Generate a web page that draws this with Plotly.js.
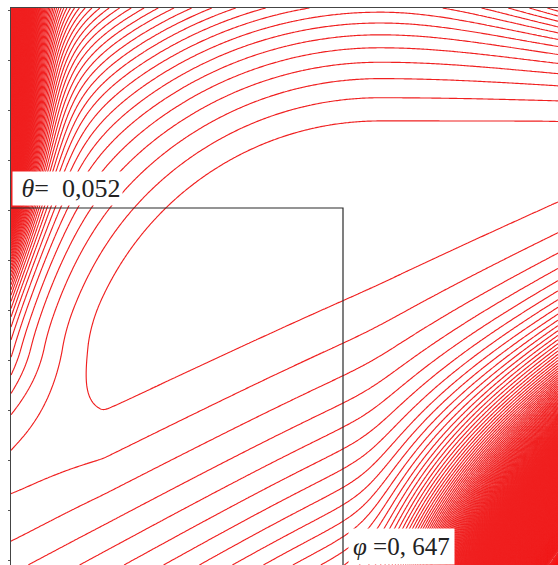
<!DOCTYPE html>
<html><head><meta charset="utf-8">
<script src="https://cdn.plot.ly/plotly-3.0.1.min.js"></script>
<style>html,body{margin:0;padding:0;background:#fff}#plot{width:558px;height:565px}</style>
</head><body><div id="plot"></div>
<script>
// estimates marked on the chart
const phiHat = 0.647;
const thetaHat = 0.052;
const phiLabel = '<i>φ</i> =0,\u00A0647';
const thetaLabel = '\u00A0<i>θ</i>=\u00A0\u00A00,052';
// visible window of the parameter plane
const phiRange = [0.315, 0.862];
const thetaRange = [-0.305, 0.252];
// shape of the criterion surface (units of 0.1 around the estimate)
const upperCentre = [0.37, -2.2];           // centre of the upper arcs
const upperShape = [1.0, 0.88, 3.0, 59, 30, 0.8, 0.7];
const lowerLine = [0.1, 0.415];             // edge of the lower family of straight contours
const lowerShape = [0.98, 0.10, 0.3, 8, 0.1];
const leftWall = [120, 0.15, 0.3, 0.4];
const levelSpec = [1, 700, 1];

function spk(x, k) { return Math.log(1 + Math.exp(k*x))/k; }

function crit(u, w) {
  const du = u - upperCentre[0], dw = w - upperCentre[1];
  const dwp = Math.max(dw, 0);
  let r2;
  if (du < 0) r2 = dwp*dwp + (du/upperShape[0])*(du/upperShape[0]);
  else { const e = Math.max(0, dw - upperShape[2]); r2 = dwp*dwp + upperShape[1]*du*du*e*e; }
  const x = (r2*r2 - upperShape[3])/upperShape[4];
  let U = (x + Math.sqrt(x*x + 0.01))/2;
  const fd = Math.min(0, dw - upperShape[5]);
  U *= Math.exp(-fd*fd/upperShape[6]);
  const d = Math.max(0, lowerLine[0] + lowerLine[1]*u - w);
  const L = lowerShape[0]*d*d*Math.exp(-lowerShape[4]*spk(-u, 2))
          * Math.exp(lowerShape[1]*d*d*spk(u - lowerShape[2], lowerShape[3]));
  const uEdge = (phiRange[0] - phiHat)/0.1;
  const W = leftWall[0]*Math.exp(-(u - uEdge)/leftWall[1]) / (1 + Math.exp(-(w - leftWall[2])/leftWall[3]));
  return U + L + W;
}

const nx = 340, ny = 340;
const xs = [], ys = [], zs = [];
for (let i = 0; i < nx; i++) xs.push(phiRange[0] + (phiRange[1]-phiRange[0])*i/(nx-1));
for (let j = 0; j < ny; j++) ys.push(thetaRange[0] + (thetaRange[1]-thetaRange[0])*j/(ny-1));
for (let j = 0; j < ny; j++) {
  const row = [];
  for (let i = 0; i < nx; i++) row.push(Math.min(crit((xs[i]-phiHat)/0.1, (ys[j]-thetaHat)/0.1), 900));
  zs.push(row);
}

const red = 'rgb(240,32,32)';
const traces = [
  {type: 'heatmap', x: xs, y: ys, z: zs, showscale: false, hoverinfo: 'skip', zsmooth: 'best',
   zmin: 0, zmax: 900,
   colorscale: [[0, 'rgba(240,32,32,0)'], [0.74, 'rgba(240,32,32,0)'], [0.8, red], [1, 'rgb(250,10,10)']]},
  {type: 'contour', x: xs, y: ys, z: zs, showscale: false, hoverinfo: 'skip',
   colorscale: [[0, red], [1, red]],
   contours: {coloring: 'lines', start: levelSpec[0], end: levelSpec[1], size: levelSpec[2]},
   line: {width: 1.15, smoothing: 0}},
  {type: 'scatter', mode: 'lines', hoverinfo: 'skip',
   x: [phiRange[0], phiHat, phiHat], y: [thetaHat, thetaHat, thetaRange[0]],
   line: {color: '#2a2a2a', width: 1.2}}
];

const layout = {
  width: 558, height: 565,
  margin: {l: 11, r: 0, t: 8, b: 0},
  paper_bgcolor: '#fff', plot_bgcolor: '#fff',
  showlegend: false,
  xaxis: {range: phiRange, side: 'top', showgrid: false, zeroline: false, showticklabels: false,
          showline: true, linecolor: '#444', linewidth: 1.5, ticks: ''},
  yaxis: {range: thetaRange, showgrid: false, zeroline: false, showticklabels: false,
          showline: true, linecolor: '#444', linewidth: 1.5, ticks: 'outside', ticklen: 2, tickcolor: '#555',
          tick0: 0, dtick: 0.05},
  annotations: [
    {x: phiRange[0], y: thetaHat, xref: 'x', yref: 'y', xanchor: 'left', yanchor: 'bottom', xshift: 1, yshift: 2,
     text: thetaLabel, showarrow: false, bgcolor: '#fff', borderpad: 2,
     font: {family: 'Liberation Serif, serif', size: 26, color: '#222'}},
    {x: phiHat, y: thetaRange[0], xref: 'x', yref: 'y', xanchor: 'left', yanchor: 'bottom', xshift: 5, yshift: 0,
     text: phiLabel, showarrow: false, bgcolor: '#fff', borderpad: 4,
     font: {family: 'Liberation Serif, serif', size: 25, color: '#222'}}
  ]
};

Plotly.newPlot('plot', traces, layout, {staticPlot: true, displayModeBar: false});
</script>
</body></html>
